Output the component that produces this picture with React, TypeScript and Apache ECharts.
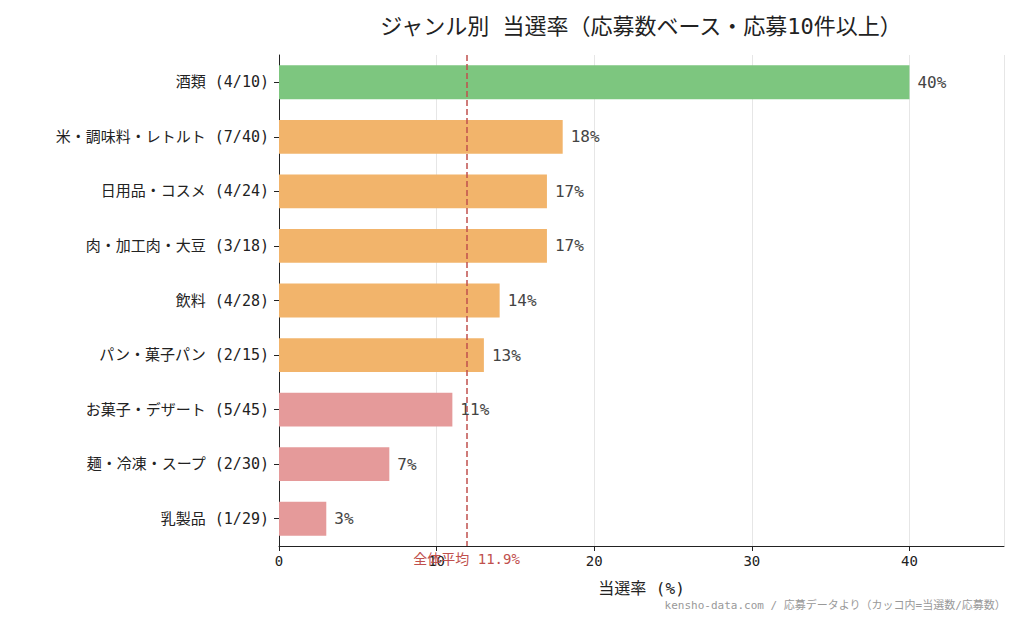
import { useRef, useEffect } from 'react';
import * as echarts from 'echarts';

const categories = ['酒類 (4/10)', '米・調味料・レトルト (7/40)', '日用品・コスメ (4/24)', '肉・加工肉・大豆 (3/18)', '飲料 (4/28)', 'パン・菓子パン (2/15)', 'お菓子・デザート (5/45)', '麺・冷凍・スープ (2/30)', '乳製品 (1/29)'];
const rates = [40, 18, 17, 17, 14, 13, 11, 7, 3];
const colors = ['#7dc67f', '#f2b46b', '#f2b46b', '#f2b46b', '#f2b46b', '#f2b46b', '#e59a9a', '#e59a9a', '#e59a9a'];
const average = 11.9;

const FONT = '"DejaVu Sans Mono", "Noto Sans CJK JP", monospace';

const App: React.FC = () => {
    const chartRef = useRef<HTMLDivElement>(null);

    useEffect(() => {
        if (!chartRef.current) return;
        const chart = echarts.init(chartRef.current, null, { renderer: 'svg' });
        const option: echarts.EChartsOption = {
            animation: false,
            textStyle: { fontFamily: FONT },
            title: {
                text: 'ジャンル別 当選率（応募数ベース・応募10件以上）',
                left: 628, top: 2, textAlign: 'center',
                textStyle: { fontSize: 22, fontWeight: 'normal', color: '#222', fontFamily: FONT },
            },
            grid: { left: 271, right: 12, top: 47, bottom: 78 },
            xAxis: {
                type: 'value', min: 0, max: 46, interval: 10,
                name: '当選率 (%)', nameLocation: 'middle', nameGap: 34,
                nameTextStyle: { fontSize: 16, color: '#222', fontFamily: FONT },
                axisLine: { show: true, lineStyle: { color: '#222' } },
                axisTick: { show: true, lineStyle: { color: '#222' } },
                axisLabel: { color: '#222', fontSize: 14, showMaxLabel: false },
                splitLine: { show: true, lineStyle: { color: '#e6e6e6' } },
            },
            yAxis: {
                type: 'category', data: categories, inverse: true,
                axisLine: { show: true, lineStyle: { color: '#222' } },
                axisTick: { show: true, alignWithLabel: true, lineStyle: { color: '#222' } },
                axisLabel: { color: '#222', fontSize: 15, margin: 10 },
            },
            series: [
                {
                    type: 'bar', barWidth: '62%',
                    data: rates.map((v, i) => ({ value: v, itemStyle: { color: colors[i] } })),
                    label: {
                        show: true, position: 'right', distance: 8,
                        formatter: (p: any) => `${p.value}%`,
                        fontSize: 16, color: '#444', fontFamily: FONT,
                    },
                    markLine: {
                        symbol: 'none', silent: true,
                        lineStyle: { color: '#c0504d', type: 'dashed', width: 1.5 },
                        label: {
                            position: 'end', formatter: `全体平均 ${average}%`,
                            color: '#c0504d', fontSize: 14, distance: 6, fontFamily: FONT,
                        },
                        data: [{ xAxis: average }],
                    },
                },
            ],
            graphic: [
                {
                    type: 'text', right: 10, top: 592,
                    style: { text: 'kensho-data.com / 応募データより（カッコ内=当選数/応募数）', fill: '#999', fontSize: 11, fontFamily: FONT },
                },
            ],
        };
        chart.setOption(option);
        return () => chart.dispose();
    }, []);

    return <div ref={chartRef} style={{ width: '1008px', height: '616px' }} />;
};

export default App;
